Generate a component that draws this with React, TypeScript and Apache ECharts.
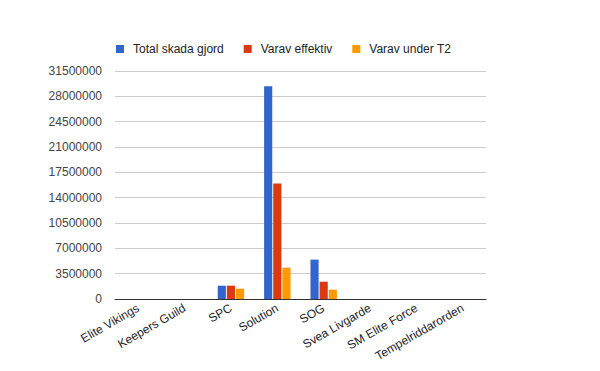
import React, { useEffect, useRef } from "react";
import * as echarts from "echarts";

const categories = ["Elite Vikings", "Keepers Guild", "SPC", "Solution", "SOG", "Svea Livgarde", "SM Elite Force", "Tempelriddarorden"];
const seriesNames = ["Total skada gjord", "Varav effektiv", "Varav under T2"];
const totalDamage = [0, 0, 1840000, 29400000, 5440000, 0, 0, 0];
const effective = [0, 0, 1840000, 15950000, 2390000, 0, 0, 0];
const underT2 = [0, 0, 1420000, 4330000, 1290000, 0, 0, 0];
const colors = ["#3366cc", "#dc3912", "#ff9900"];
const yMax = 31500000;
const yInterval = 3500000;

export default function App() {
  const ref = useRef<HTMLDivElement>(null);
  useEffect(() => {
    if (!ref.current) return;
    const chart = echarts.init(ref.current, undefined, { renderer: "svg" });
    const font = "Arial, 'Liberation Sans', sans-serif";
    const values = [totalDamage, effective, underT2];
    chart.setOption({
      animation: false,
      color: colors,
      textStyle: { fontFamily: font },
      legend: {
        left: 111,
        top: 38,
        itemWidth: 8,
        itemHeight: 8,
        itemGap: 20,
        icon: "rect",
        textStyle: { fontSize: 12, color: "#222", fontFamily: font, padding: [0, 0, 0, 4] },
        data: seriesNames,
      },
      grid: { left: 115, right: 114, top: 71, bottom: 72, containLabel: false },
      xAxis: {
        type: "category",
        data: categories,
        axisLine: { lineStyle: { color: "#333", width: 1 } },
        axisTick: { show: false },
        axisLabel: { rotate: 30, color: "#222", fontSize: 12, fontFamily: font, interval: 0, margin: 8 },
      },
      yAxis: {
        type: "value",
        min: 0,
        max: yMax,
        interval: yInterval,
        axisLine: { show: false },
        axisTick: { show: false },
        splitLine: { lineStyle: { color: "#cccccc", width: 1 } },
        axisLabel: {
          color: "#444",
          fontSize: 12,
          fontFamily: font,
          margin: 13,
          formatter: (v: number) => String(v),
        },
      },
      series: seriesNames.map((name, i) => ({
        name,
        type: "bar",
        data: values[i],
        barGap: "12%",
        barCategoryGap: "43%",
        itemStyle: { color: colors[i] },
      })),
    });
    return () => chart.dispose();
  }, []);
  return <div ref={ref} style={{ width: 600, height: 371, position: "absolute", left: 0, top: 0 }} />;
}
